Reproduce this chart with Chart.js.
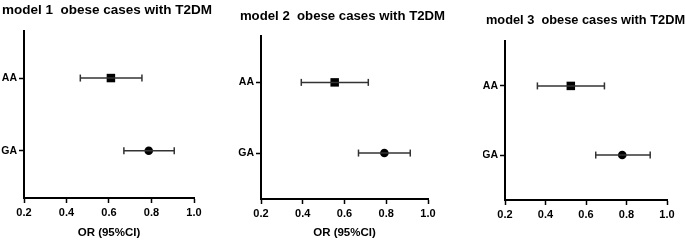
<!DOCTYPE html>
<html>
<head>
<meta charset="utf-8">
<script src="https://cdn.jsdelivr.net/npm/chart.js@4.4.1/dist/chart.umd.min.js"></script>
<style>
  html, body { margin: 0; padding: 0; background: #fff; }
  #wrap { position: relative; width: 685px; height: 240px; overflow: hidden; }
  canvas { position: absolute; top: 0; }
</style>
</head>
<body>
<div id="wrap">
  <canvas id="c1" width="230" height="240" style="left:0px"></canvas>
  <canvas id="c2" width="230" height="240" style="left:230px"></canvas>
  <canvas id="c3" width="240" height="240" style="left:455px"></canvas>
</div>
<script>
// data
const rowLabels = ['AA', 'GA'];
const rowPos = [2, 1];               // AA above GA
const titles = [
  'model 1  obese cases with T2DM',
  'model 2  obese cases with T2DM',
  'model 3  obese cases with T2DM'
];
const xTitles = ['OR (95%CI)', 'OR (95%CI)', ''];

const orModel1 = [0.609, 0.787];
const lowModel1 = [0.465, 0.670];
const highModel1 = [0.755, 0.907];

const orModel2 = [0.553, 0.791];
const lowModel2 = [0.393, 0.667];
const highModel2 = [0.714, 0.915];

const orModel3 = [0.525, 0.779];
const lowModel3 = [0.360, 0.648];
const highModel3 = [0.691, 0.917];

const xTicks = [0.2, 0.4, 0.6, 0.8, 1.0];

const FONT = "'Liberation Sans', Arial, sans-serif";

// per panel layout (positions only)
// yw = left axis width, rw = empty right axis so the title centres like the original
const layouts = [
  { id: 'c1', pad: { left: 0, right: 16, top: 0 }, yw: 24, rw: 20, xh: 42, tSize: 13.5 },
  { id: 'c2', pad: { left: 7, right: 12, top: 6 }, yw: 24, rw: 20, xh: 41, tSize: 13.2 },
  { id: 'c3', pad: { left: 28, right: 7, top: 11 }, yw: 22, rw: 21, xh: 40, tSize: 12.8 }
];

const models = [
  { or: orModel1, lo: lowModel1, hi: highModel1 },
  { or: orModel2, lo: lowModel2, hi: highModel2 },
  { or: orModel3, lo: lowModel3, hi: highModel3 }
];

function buildDatasets(m) {
  const ds = [];
  rowLabels.forEach((lab, i) => {
    // whisker with caps
    ds.push({
      type: 'line',
      label: lab + ' CI',
      data: [{ x: m.lo[i], y: rowPos[i] }, { x: m.hi[i], y: rowPos[i] }],
      borderColor: '#333',
      borderWidth: 1.5,
      pointStyle: 'line',
      pointRotation: 90,
      pointRadius: 3.5,
      pointBorderWidth: 1.5,
      pointBorderColor: '#333',
      showLine: true,
      clip: false
    });
  });
  rowLabels.forEach((lab, i) => {
    ds.push({
      type: 'scatter',
      label: lab,
      data: [{ x: m.or[i], y: rowPos[i] }],
      pointStyle: i === 0 ? 'rect' : 'circle',
      pointRadius: i === 0 ? 6 : 4.3,
      backgroundColor: '#000',
      borderColor: '#000',
      borderWidth: 0,
      clip: false
    });
  });
  return ds;
}

layouts.forEach((L, k) => {
  const ctx = document.getElementById(L.id).getContext('2d');
  new Chart(ctx, {
    type: 'scatter',
    data: { datasets: buildDatasets(models[k]) },
    options: {
      responsive: false,
      animation: false,
      devicePixelRatio: 1,
      layout: { padding: { left: L.pad.left, right: L.pad.right, top: L.pad.top, bottom: 0 } },
      plugins: {
        legend: { display: false },
        tooltip: { enabled: false },
        title: {
          display: true,
          text: titles[k],
          color: '#000',
          font: { family: FONT, size: L.tSize, weight: 'bold' },
          padding: { top: 2, bottom: 12.6 }
        }
      },
      scales: {
        x: {
          type: 'linear',
          min: 0.2,
          max: 1.0,
          afterFit: s => { s.height = L.xh; },
          afterBuildTicks: s => { s.ticks = xTicks.map(v => ({ value: v })); },
          border: { display: true, color: '#000', width: 2 },
          grid: { display: true, drawOnChartArea: false, drawTicks: true, tickLength: 5, tickColor: '#000', tickWidth: 1.5 },
          ticks: {
            color: '#000',
            padding: 3,
            maxRotation: 0,
            font: { family: FONT, size: 11, weight: 'bold' },
            callback: v => Number(v).toFixed(1)
          },
          title: {
            display: xTitles[k] !== '',
            text: xTitles[k],
            color: '#000',
            font: { family: FONT, size: 11.5, weight: 'bold' },
            padding: { top: 0, bottom: 0 }
          }
        },
        y: {
          type: 'linear',
          min: 0.35,
          max: 2.65,
          afterFit: s => { s.width = L.yw; },
          afterBuildTicks: s => { s.ticks = rowPos.map(v => ({ value: v })); },
          border: { display: true, color: '#000', width: 2 },
          grid: { display: true, drawOnChartArea: false, drawTicks: true, tickLength: 5, tickColor: '#000', tickWidth: 1.5 },
          ticks: {
            color: '#000',
            padding: 2,
            font: { family: FONT, size: 10.5, weight: 'bold' },
            callback: v => rowLabels[rowPos.indexOf(v)]
          }
        },
        yRight: {
          type: 'linear',
          position: 'right',
          afterFit: s => { s.width = L.rw; },
          border: { display: false },
          grid: { display: false },
          ticks: { display: false }
        }
      }
    }
  });
});
</script>
</body>
</html>
